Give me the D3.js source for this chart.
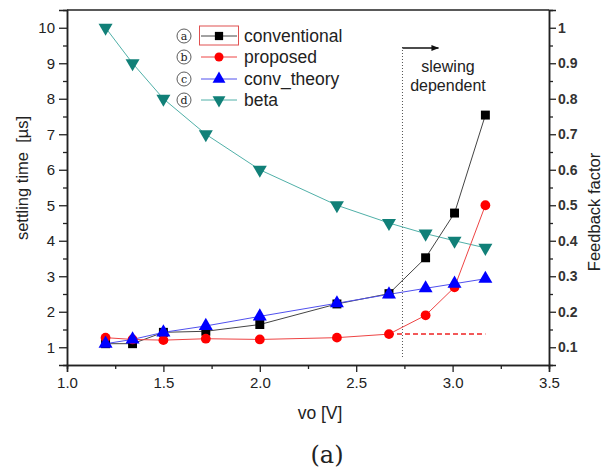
<!DOCTYPE html>
<html><head><meta charset="utf-8">
<script src="https://cdn.jsdelivr.net/npm/d3@7"></script>
<style>body{margin:0;background:#fff}svg{display:block}</style>
</head><body><svg id="c" width="612" height="468"></svg>
<script>
const vo = [1.2, 1.34, 1.5, 1.72, 2.0, 2.4, 2.67, 2.86, 3.01, 3.17];
const conventional = [1.1, 1.1, 1.42, 1.45, 1.64, 2.22, 2.51, 3.52, 4.78, 7.54];
const proposed = [1.27, 1.22, 1.2, 1.24, 1.22, 1.27, 1.37, 1.9, 2.69, 5.0];
const convTheory = [1.1, 1.22, 1.42, 1.6, 1.87, 2.24, 2.49, 2.66, 2.79, 2.93];
const beta = [1.0, 0.9, 0.8, 0.7, 0.6, 0.5, 0.45, 0.42, 0.40, 0.38];
const dashedLevel = [[2.67, 1.37], [3.17, 1.37]];
const slewX = 2.74;
const xTicks = [1.0, 1.5, 2.0, 2.5, 3.0, 3.5];
const leftTicks = [1,2,3,4,5,6,7,8,9,10];
const rightTicks = [0.1,0.2,0.3,0.4,0.5,0.6,0.7,0.8,0.9,1];
const legendLabels = ["conventional","proposed","conv_theory","beta"];
const legendLetters = ["a","b","c","d"];

const L=67, R=549, T=10, B=365;
const svg = d3.select("#c");
const x = d3.scaleLinear().domain([1.0,3.5]).range([L,R]);
const y = d3.scaleLinear().domain([0.5,10.5]).range([B,T]);
const y2 = d3.scaleLinear().domain([0.05,1.05]).range([B,T]);
const font = "Arial, 'Liberation Sans', sans-serif";

// frame top
svg.append("line").attr("x1",L).attr("x2",R).attr("y1",T).attr("y2",T).attr("stroke","#222").attr("stroke-width",1.5);

// bottom axis
svg.append("g").attr("transform",`translate(0,${B})`)
  .call(d3.axisBottom(x).tickValues(d3.range(1.25,3.5,0.5)).tickSize(4).tickFormat(""));
svg.append("g").attr("transform",`translate(0,${B})`)
  .call(d3.axisBottom(x).tickValues(xTicks).tickSize(7).tickPadding(5).tickFormat(d3.format(".1f")));
// left
svg.append("g").attr("transform",`translate(${L},0)`)
  .call(d3.axisLeft(y).tickValues(d3.range(1.5,10.5,1)).tickSize(4).tickFormat(""));
svg.append("g").attr("transform",`translate(${L},0)`)
  .call(d3.axisLeft(y).tickValues(leftTicks).tickSize(8).tickPadding(4).tickFormat(d3.format("d")));
// right
svg.append("g").attr("transform",`translate(${R},0)`)
  .call(d3.axisRight(y2).tickValues(d3.range(0.15,1.05,0.1)).tickSize(4).tickFormat(""));
svg.append("g").attr("transform",`translate(${R},0)`).attr("class","rt")
  .call(d3.axisRight(y2).tickValues(rightTicks).tickSize(7).tickPadding(2).tickFormat(d=>d===1?"1":d3.format(".1f")(d)));
svg.selectAll(".domain").attr("stroke","#222").attr("stroke-width",1.5);
svg.selectAll(".tick line").attr("stroke","#222").attr("stroke-width",1.3);
svg.selectAll(".tick text").attr("font-family",font).attr("font-size",15).attr("fill","#222");
svg.selectAll(".rt .tick text").attr("font-weight","bold").attr("font-size",14).attr("fill","#333");

// axis labels
svg.append("text").attr("transform","translate(28,178) rotate(-90)").attr("text-anchor","middle")
  .attr("font-family",font).attr("font-size",16.5).attr("fill","#222").attr("xml:space","preserve").text("settling time  [µs]");
svg.append("text").attr("transform","translate(600,212) rotate(-90)").attr("text-anchor","middle")
  .attr("font-family",font).attr("font-size",16.5).attr("fill","#222").text("Feedback factor");
svg.append("text").attr("x",320).attr("y",419).attr("text-anchor","middle")
  .attr("font-family",font).attr("font-size",17.5).attr("fill","#222").text("vo [V]");
svg.append("text").attr("x",327).attr("y",463).attr("text-anchor","middle")
  .attr("font-family","'DejaVu Serif','Liberation Serif',serif").attr("font-size",24).attr("fill","#222").text("(a)");

// slewing annotation
svg.append("line").attr("x1",x(slewX)).attr("x2",x(slewX)).attr("y1",47).attr("y2",y(0.7))
  .attr("stroke","#555").attr("stroke-width",1).attr("stroke-dasharray","1,2");
svg.append("defs").append("marker").attr("id","ah").attr("viewBox","0 0 10 10").attr("refX",9).attr("refY",5)
  .attr("markerWidth",6).attr("markerHeight",6).attr("orient","auto")
  .append("path").attr("d","M0,1L10,5L0,9Z").attr("fill","#111");
svg.append("line").attr("x1",x(slewX)).attr("x2",x(slewX)+36).attr("y1",48).attr("y2",48)
  .attr("stroke","#111").attr("stroke-width",1.3).attr("marker-end","url(#ah)");
svg.append("text").attr("x",448).attr("y",72).attr("text-anchor","middle").attr("font-family",font).attr("font-size",16).attr("fill","#222").text("slewing");
svg.append("text").attr("x",448).attr("y",91).attr("text-anchor","middle").attr("font-family",font).attr("font-size",16).attr("fill","#222").text("dependent");

// series
const line = (ys, sc) => d3.line().x((d,i)=>x(vo[i])).y(d=>sc(d))(ys);
const series = [
  {vals:conventional, sc:y, line:"#444", fill:"#000", sym:d3.symbolSquare, size:80, rot:0},
  {vals:proposed, sc:y, line:"#ee4444", fill:"#ff0000", sym:d3.symbolCircle, size:75, rot:0},
  {vals:convTheory, sc:y, line:"#5050ee", fill:"#0000ff", sym:d3.symbolTriangle, size:85, rot:0},
  {vals:beta, sc:y2, line:"#50b0a8", fill:"#118078", sym:d3.symbolTriangle, size:85, rot:180},
];
[3,0,2,1].forEach(k=>{
  const s = series[k];
  svg.append("path").attr("d",line(s.vals,s.sc)).attr("fill","none").attr("stroke",s.line).attr("stroke-width",1);
});
svg.append("path").attr("d",d3.line().x(d=>x(d[0])).y(d=>y(d[1]))(dashedLevel))
  .attr("stroke","#ee2222").attr("stroke-width",1.5).attr("stroke-dasharray","5,3").attr("fill","none");
[3,0,1,2].forEach(k=>{
  const s = series[k];
  svg.append("g").selectAll("path").data(s.vals).join("path")
    .attr("d",d3.symbol().type(s.sym).size(s.size))
    .attr("transform",(d,i)=>`translate(${x(vo[i])},${s.sc(d)}) rotate(${s.rot})`)
    .attr("fill",s.fill);
});

// legend
const ly = [36,57,79,100];
legendLabels.forEach((lab,i)=>{
  const s = series[i];
  const g = svg.append("g");
  g.append("circle").attr("cx",184).attr("cy",ly[i]).attr("r",7).attr("fill","none").attr("stroke","#333").attr("stroke-width",0.8);
  g.append("text").attr("x",184).attr("y",ly[i]+3.5).attr("text-anchor","middle").attr("font-family","'DejaVu Serif',serif").attr("font-size",11).attr("fill","#222").text(legendLetters[i]);
  g.append("line").attr("x1",201).attr("x2",237).attr("y1",ly[i]).attr("y2",ly[i]).attr("stroke",s.line).attr("stroke-width",1);
  g.append("path").attr("d",d3.symbol().type(s.sym).size(s.size*0.85)).attr("transform",`translate(219,${ly[i]}) rotate(${s.rot})`).attr("fill",s.fill);
  g.append("text").attr("x",244).attr("y",ly[i]+6).attr("font-family",font).attr("font-size",17.5).attr("fill","#222").text(lab);
});
svg.append("rect").attr("x",199.5).attr("y",26).attr("width",39).attr("height",19).attr("fill","none").attr("stroke","#e05050").attr("stroke-width",1);
</script></body></html>
